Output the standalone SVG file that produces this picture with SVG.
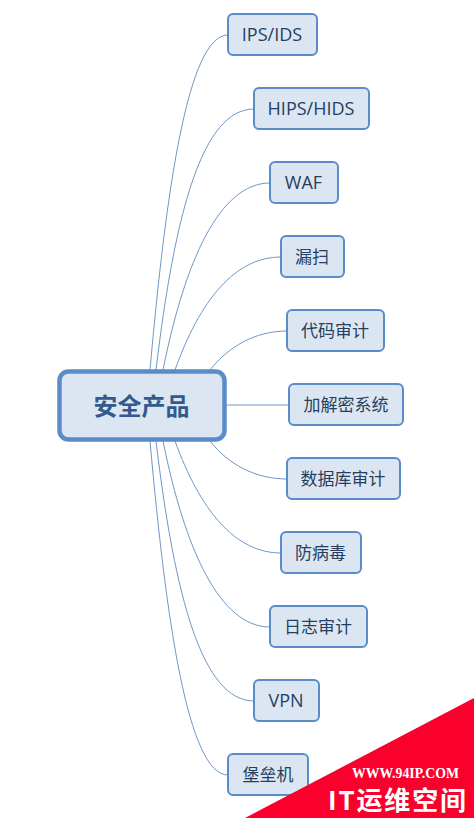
<svg xmlns="http://www.w3.org/2000/svg" width="474" height="818" viewBox="0 0 474 818">
<style>
.n{fill:#dce6f2;stroke:#5a8cca;stroke-width:2}
.t{font-family:"Noto Sans CJK SC","Open Sans",sans-serif;font-size:17px;fill:#243f60;text-anchor:middle}
.l{font-family:"Open Sans","Noto Sans CJK SC",sans-serif;font-size:18px}
.c{fill:none;stroke:#6f97c6;stroke-width:1}
</style>
<rect width="474" height="818" fill="#fff"/>
<g id="connectors">
<path class="c" d="M150,370C166,190 188,35 228,35"/>
<path class="c" d="M156,370C175,210 203,109 254,109"/>
<path class="c" d="M163,370C185,260 220,183 270,183"/>
<path class="c" d="M175,370C200,300 235,257 281,257"/>
<path class="c" d="M210,370C228,347 255,331 287,331"/>
<path class="c" d="M227,405H289"/>
<path class="c" d="M210,441C228,464 255,479 287,479"/>
<path class="c" d="M175,441C200,510 235,553 281,553"/>
<path class="c" d="M163,441C185,550 220,627 270,627"/>
<path class="c" d="M156,441C175,600 203,701 254,701"/>
<path class="c" d="M150,441C166,620 188,775 228,775"/>
</g>
<g id="root"><rect x="59.500" y="371.500" width="165" height="68" rx="9" fill="#dce6f2" stroke="#5a8cca" stroke-width="4.500"/><text x="141.500" y="415" text-anchor="middle" font-family="Noto Sans CJK SC,sans-serif" font-size="24" font-weight="700" fill="#335a8c">安全产品</text></g>
<g id="n1"><rect class="n" x="228" y="14" width="89" height="41" rx="5"/><text class="t l" x="272" y="41">IPS/IDS</text></g>
<g id="n2"><rect class="n" x="254" y="88" width="115" height="41" rx="5"/><text class="t l" x="311" y="115">HIPS/HIDS</text></g>
<g id="n3"><rect class="n" x="270" y="162" width="68" height="41" rx="5"/><text class="t l" x="303.500" y="189">WAF</text></g>
<g id="n4"><rect class="n" x="281" y="236" width="63" height="41" rx="5"/><text class="t" x="312" y="263">漏扫</text></g>
<g id="n5"><rect class="n" x="287" y="310" width="97" height="41" rx="5"/><text class="t" x="335" y="337">代码审计</text></g>
<g id="n6"><rect class="n" x="289" y="384" width="114" height="41" rx="5"/><text class="t" x="346" y="411">加解密系统</text></g>
<g id="n7"><rect class="n" x="287" y="458" width="113" height="41" rx="5"/><text class="t" x="343" y="485">数据库审计</text></g>
<g id="n8"><rect class="n" x="281" y="532" width="80" height="41" rx="5"/><text class="t" x="320.500" y="559">防病毒</text></g>
<g id="n9"><rect class="n" x="270" y="606" width="97" height="41" rx="5"/><text class="t" x="318" y="633">日志审计</text></g>
<g id="n10"><rect class="n" x="254" y="680" width="65" height="41" rx="5"/><text class="t l" x="286" y="707">VPN</text></g>
<g id="n11"><rect class="n" x="228" y="754" width="80" height="41" rx="5"/><text class="t" x="268" y="781">堡垒机</text></g>
<polygon points="474,698 474,818 245,818" fill="#f9002d"/>
<text x="352" y="778" font-family="Liberation Serif,serif" font-size="14" font-weight="700" fill="#fff" textLength="107" lengthAdjust="spacingAndGlyphs">WWW.94IP.COM</text>
<text x="328" y="810" font-family="Noto Sans CJK SC,sans-serif" font-size="26" font-weight="700" fill="#fff" textLength="138" lengthAdjust="spacing">IT运维空间</text>
</svg>
